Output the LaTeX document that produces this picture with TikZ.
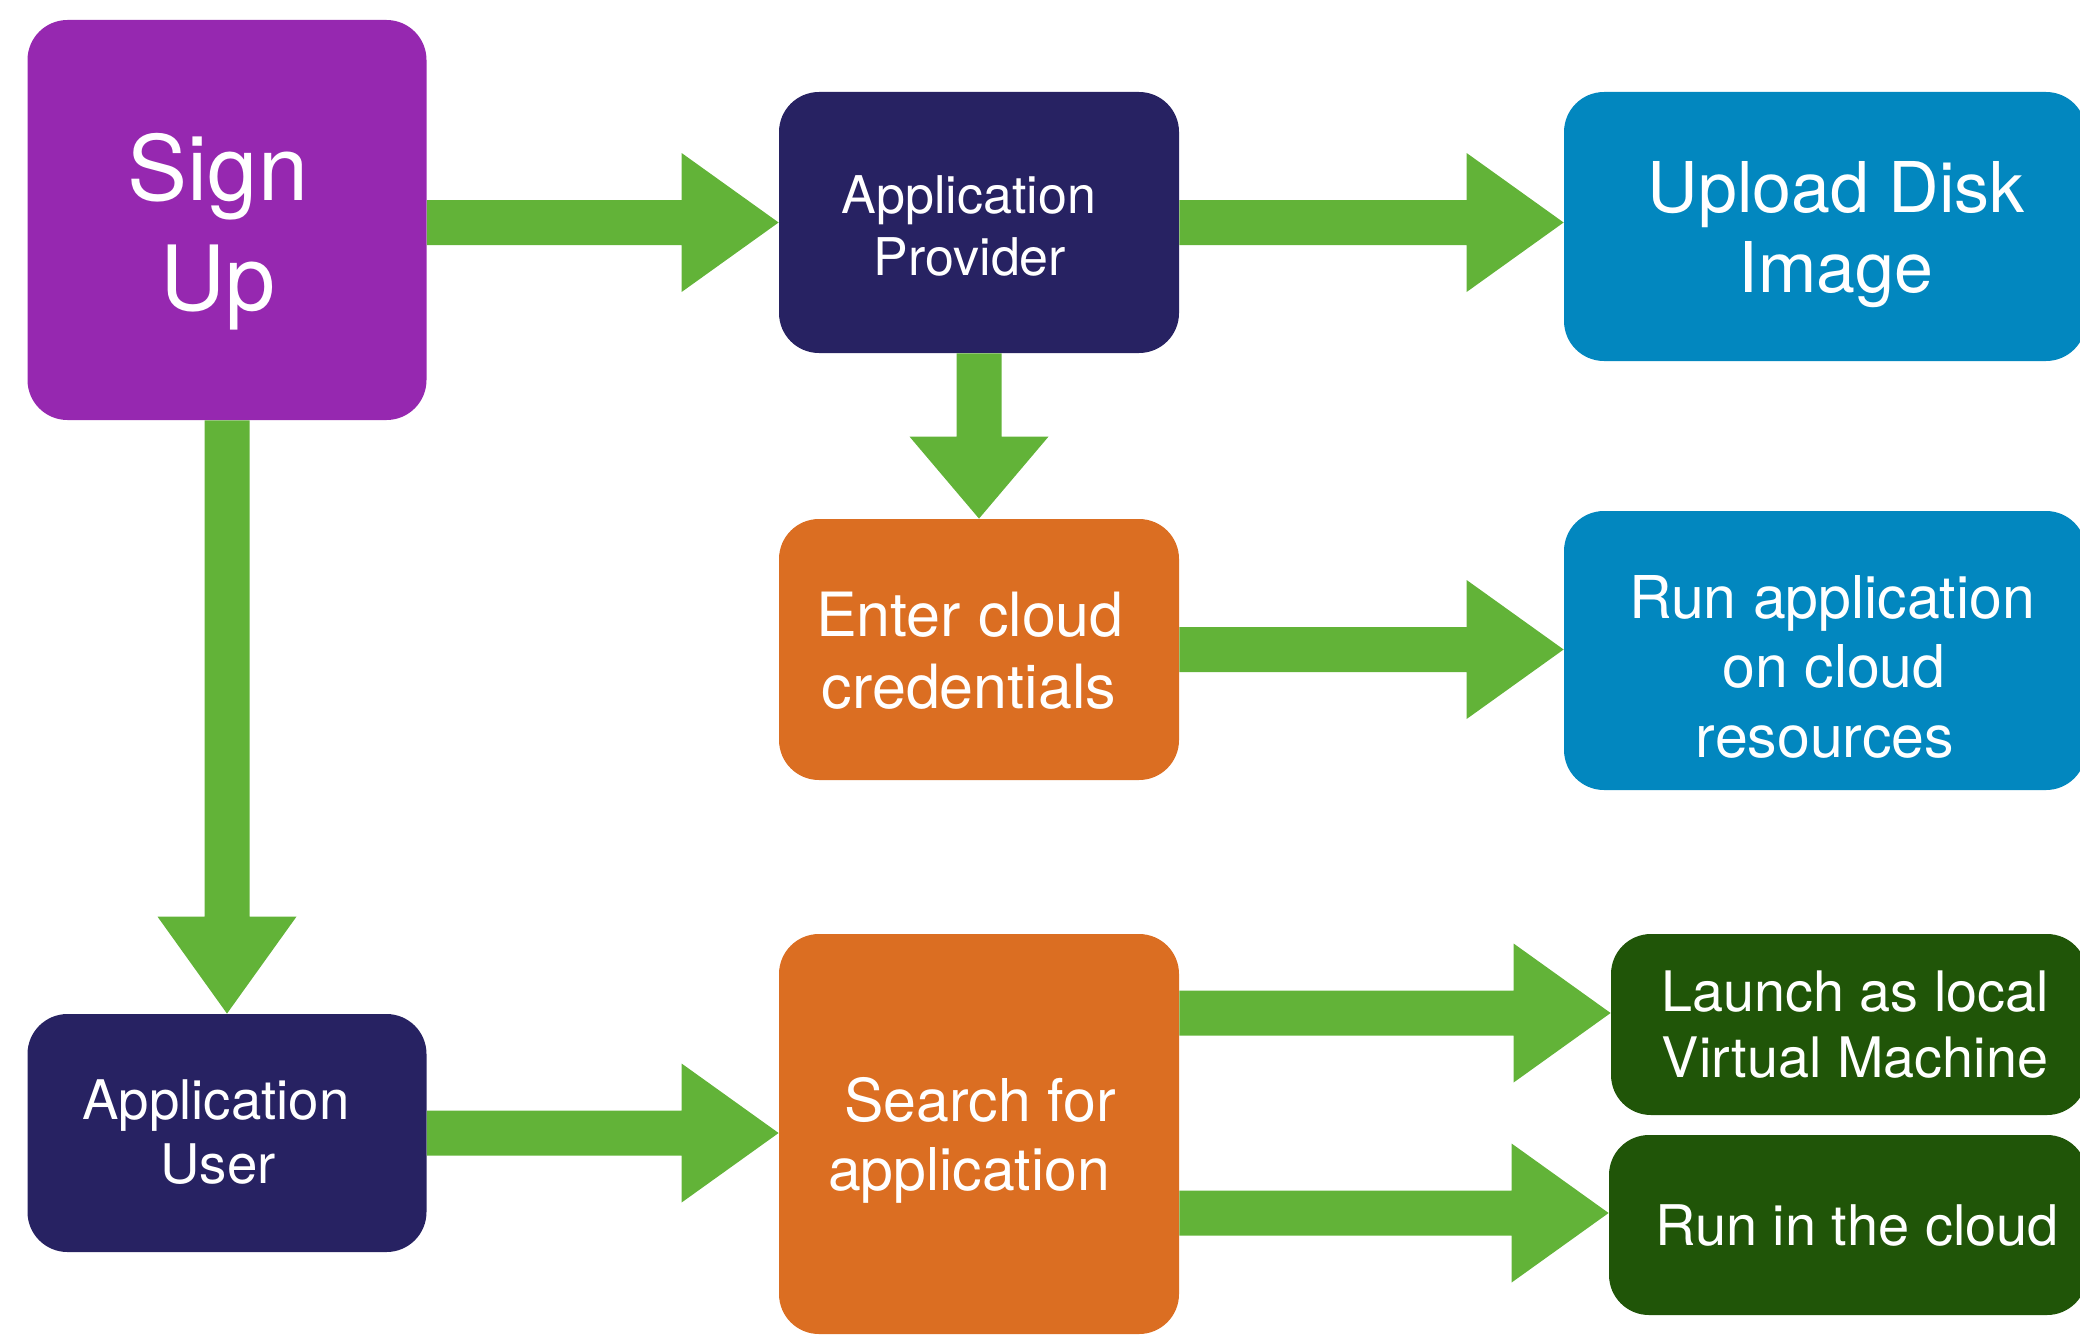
\documentclass[tikz,border=0pt]{standalone}
\usepackage{fontspec}
\setmainfont{TeX Gyre Heros}
\usetikzlibrary{calc}

\definecolor{signpurple}{RGB}{150,40,176}
\definecolor{rolenavy}{RGB}{39,34,98}
\definecolor{cloudblue}{RGB}{2,135,191}
\definecolor{steporange}{RGB}{219,110,34}
\definecolor{rundarkgreen}{RGB}{32,85,8}
\definecolor{flowgreen}{RGB}{98,179,56}

\tikzset{
  card/.style={rounded corners=20pt, inner sep=0pt, draw=none},
  sz/.style 2 args={minimum width=#1*0.5pt, minimum height=#2*0.5pt},
  lbl/.style={text=white, inner sep=0pt, anchor=base},
  flow/.style={fill=flowgreen, draw=none},
}
\newcommand\fs[1]{\fontsize{#1pt}{#1pt}\selectfont}

% horizontal block arrow: from point #1 to tip #2 (drawn at the tip's height)
\newcommand\hflow[2]{%
  \fill[flow] let \p1=(#1), \p2=(#2) in
    (\x1,\y2+11.25pt) -- (\x2-48.5pt,\y2+11.25pt) -- (\x2-48.5pt,\y2+34.75pt) --
    (\x2,\y2) -- (\x2-48.5pt,\y2-34.75pt) -- (\x2-48.5pt,\y2-11.25pt) --
    (\x1,\y2-11.25pt) -- cycle;}
% downward block arrow: from point #1 to tip #2, head length #3
\newcommand\vflow[3]{%
  \fill[flow] let \p1=(#1), \p2=(#2) in
    (\x2-11.25pt,\y1) -- (\x2-11.25pt,\y2+#3) -- (\x2-34.75pt,\y2+#3) --
    (\x2,\y2) -- (\x2+34.75pt,\y2+#3) -- (\x2+11.25pt,\y2+#3) --
    (\x2+11.25pt,\y1) -- cycle;}

\begin{document}
\begin{tikzpicture}[x=0.5pt, y=-0.5pt]
\useasboundingbox (0,0) rectangle (2080,1343);
\clip (0,0) rectangle (2080,1343);

% boxes
\node[card, fill=signpurple,   sz={399}{400}] (signup)   at (227,220)    {};
\node[card, fill=rolenavy,     sz={400}{261}] (provider) at (979,222.5)  {};
\node[card, fill=cloudblue,    sz={522}{269}] (upload)   at (1825,226.5) {};
\node[card, fill=steporange,   sz={400}{261}] (enter)    at (979,649.5)  {};
\node[card, fill=cloudblue,    sz={522}{279}] (runapp)   at (1825,650.5) {};
\node[card, fill=rolenavy,     sz={399}{238}] (user)     at (227,1133)   {};
\node[card, fill=steporange,   sz={400}{400}] (search)   at (979,1134)   {};
\node[card, fill=rundarkgreen, sz={476}{181}] (launch)   at (1849,1024.5){};
\node[card, fill=rundarkgreen, sz={478}{180}] (runcloud) at (1848,1225)  {};

% labels
\node[lbl, font=\fs{45}] (signup-a) at (218,200) {Sign};
\node[lbl, font=\fs{45}] (signup-b) at (218,310) {Up};

\node[lbl, font=\fs{26}] (provider-a) at (969,213) {Application};
\node[lbl, font=\fs{26}] (provider-b) at (970,275) {Provider};

\node[lbl, font=\fs{35}] (upload-a) at (1836,212) {Upload Disk};
\node[lbl, font=\fs{35}] (upload-b) at (1836,292) {Image};

\node[lbl, font=\fs{30.5}] (enter-a) at (970,636) {Enter cloud};
\node[lbl, font=\fs{30.5}] (enter-b) at (969,708) {credentials};

\node[lbl, font=\fs{29.5}] (runapp-a) at (1832,618) {Run application};
\node[lbl, font=\fs{29.5}] (runapp-b) at (1834,687) {on cloud};
\node[lbl, font=\fs{29.5}] (runapp-c) at (1825,757) {resources};

\node[lbl, font=\fs{27.3}] (user-a) at (216,1119) {Application};
\node[lbl, font=\fs{27.3}] (user-b) at (218,1183) {User};

\node[lbl, font=\fs{29.5}] (search-a) at (980,1121) {Search for};
\node[lbl, font=\fs{29.5}] (search-b) at (969,1190) {application};

\node[lbl, font=\fs{27.9}] (launch-a) at (1855,1011) {Launch as local};
\node[lbl, font=\fs{27.9}] (launch-b) at (1855,1077) {Virtual Machine};

\node[lbl, font=\fs{28}] (runcloud-a) at (1857,1245) {Run in the cloud};

% arrow tips that sit off the box centre lines
\coordinate (launch-in)   at ([yshift=5.75pt]launch.west);
\coordinate (runcloud-in) at ([yshift=6pt]runcloud.west);

% connectors
\hflow{signup.east}{provider.west}
\hflow{provider.east}{upload.west |- provider.east}
\hflow{enter.east}{runapp.west |- enter.east}
\hflow{user.east}{search.west |- user.east}
\hflow{search.east |- launch-in}{launch-in}
\hflow{search.east |- runcloud-in}{runcloud-in}
\vflow{signup.south}{user.north}{48.5pt}
\vflow{provider.south}{enter.north}{41pt}
\end{tikzpicture}
\end{document}
